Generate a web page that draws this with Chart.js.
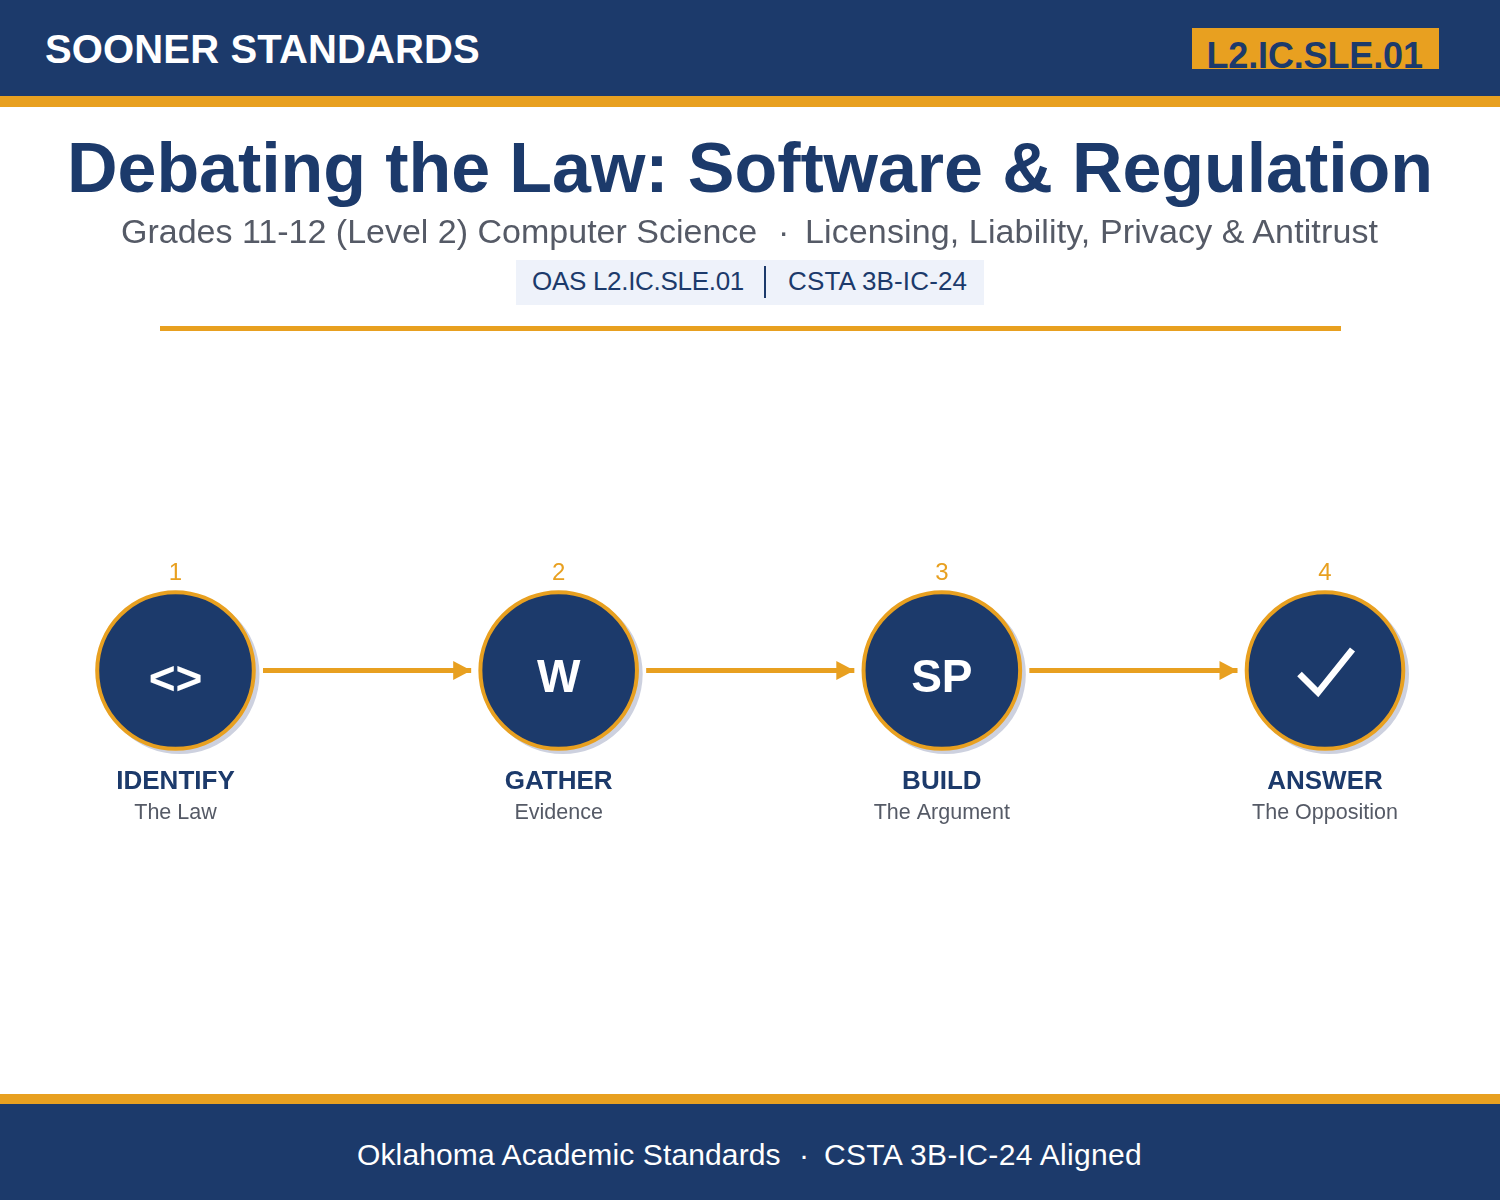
<!DOCTYPE html>
<html>
<head>
<meta charset="utf-8">
<title>Debating the Law: Software & Regulation</title>
<script src="https://cdn.jsdelivr.net/npm/chart.js@4/dist/chart.umd.min.js"></script>
<style>
  html, body { margin: 0; padding: 0; background: #fff; }
  body { position: relative; width: 1500px; height: 1200px; overflow: hidden; font-family: "Liberation Sans", Arial, sans-serif; }
  #flow { position: absolute; left: 0; top: 0; }
  .box { position: absolute; }
  .txt { position: absolute; white-space: pre; line-height: 1; }
  .center { left: 0; width: 1500px; text-align: center; }
</style>
</head>
<body>
<canvas id="flow" width="1500" height="1200" style="width:1500px;height:1200px"></canvas>

<div class="box" style="left:0;top:0;width:1500px;height:96px;background:#1c3a6b"></div>
<div class="box" style="left:0;top:96px;width:1500px;height:11px;background:#e8a020"></div>
<div class="txt" style="left:45px;top:29px;font-size:40px;font-weight:bold;letter-spacing:0.14px;color:#fff">SOONER STANDARDS</div>
<div class="box" style="left:1192px;top:28px;width:247px;height:41px;background:#e8a020"></div>
<div class="txt" style="left:1206.5px;top:38px;font-size:36px;font-weight:bold;letter-spacing:-0.15px;color:#1c3a6b">L2.IC.SLE.01</div>

<div class="txt center" style="top:133px;font-size:70px;font-weight:bold;letter-spacing:-0.08px;color:#1c3a6b">Debating the Law: Software &amp; Regulation</div>
<div class="txt" style="left:121px;top:214px;font-size:34px;color:#555a66">Grades 11-12 (Level 2) Computer Science</div>
<div class="txt" style="left:778px;top:214px;font-size:34px;color:#555a66">·</div>
<div class="txt" style="left:805px;top:214px;font-size:34px;letter-spacing:0.12px;color:#555a66">Licensing, Liability, Privacy &amp; Antitrust</div>

<div class="box" style="left:516px;top:260px;width:468px;height:45px;background:#eef2fa"></div>
<div class="txt" style="left:532px;top:268px;font-size:26px;letter-spacing:-0.3px;color:#1c3a6b">OAS L2.IC.SLE.01</div>
<div class="box" style="left:764px;top:266px;width:2px;height:32px;background:#1c3a6b"></div>
<div class="txt" style="left:788px;top:268px;font-size:26px;letter-spacing:0.15px;color:#1c3a6b">CSTA 3B-IC-24</div>
<div class="box" style="left:160px;top:326px;width:1181px;height:5px;background:#e8a020"></div>

<div class="box" style="left:0;top:1094px;width:1500px;height:10px;background:#e8a020"></div>
<div class="box" style="left:0;top:1104px;width:1500px;height:96px;background:#1c3a6b"></div>
<div class="txt" style="left:357px;top:1140px;font-size:30px;letter-spacing:0.13px;color:#fff">Oklahoma Academic Standards</div>
<div class="txt" style="left:799px;top:1140px;font-size:30px;color:#fff">·</div>
<div class="txt" style="left:824px;top:1140px;font-size:30px;letter-spacing:0.32px;color:#fff">CSTA 3B-IC-24 Aligned</div>

<script>
const stepNumbers = ["1", "2", "3", "4"];
const stepNames = ["IDENTIFY", "GATHER", "BUILD", "ANSWER"];
const stepNotes = ["The Law", "Evidence", "The Argument", "The Opposition"];
const stepIcons = ["<>", "W", "SP", "check"];
const stepLevel = [1, 1, 1, 1];

const NAVY = "#1c3a6b";
const GOLD = "#e8a020";
const FONT = '"Liberation Sans", Arial, sans-serif';

// shadows under the circles, arrows between them
const flowMarks = {
  id: "flowMarks",
  beforeDatasetsDraw(chart) {
    const ctx = chart.ctx;
    const pts = chart.getDatasetMeta(0).data;
    ctx.save();
    ctx.fillStyle = "#cdd1df";
    pts.forEach(p => {
      ctx.beginPath();
      ctx.arc(p.x + 4, p.y + 3.5, 80, 0, Math.PI * 2);
      ctx.fill();
    });
    ctx.fillStyle = GOLD;
    ctx.strokeStyle = GOLD;
    ctx.lineWidth = 5;
    for (let i = 0; i < pts.length - 1; i++) {
      const x0 = pts[i].x + 87.5, x1 = pts[i + 1].x - 87.5, y = pts[i].y;
      ctx.beginPath();
      ctx.moveTo(x0, y);
      ctx.lineTo(x1, y);
      ctx.stroke();
      ctx.beginPath();
      ctx.moveTo(x1 - 18, y - 9.5);
      ctx.lineTo(x1, y);
      ctx.lineTo(x1 - 18, y + 9.5);
      ctx.closePath();
      ctx.fill();
    }
    ctx.restore();
  },
  afterDatasetsDraw(chart) {
    const ctx = chart.ctx;
    const pts = chart.getDatasetMeta(0).data;
    ctx.save();
    ctx.fillStyle = "#fff";
    ctx.strokeStyle = "#fff";
    ctx.textAlign = "center";
    ctx.textBaseline = "alphabetic";
    ctx.font = "bold 46px " + FONT;
    pts.forEach((p, i) => {
      if (stepIcons[i] === "check") {
        ctx.lineWidth = 6.5;
        ctx.lineJoin = "miter";
        ctx.beginPath();
        ctx.moveTo(p.x - 25.5, p.y + 3.5);
        ctx.lineTo(p.x - 7, p.y + 22);
        ctx.lineTo(p.x + 27.5, p.y - 21);
        ctx.stroke();
      } else {
        // the <> glyphs sit a bit lower than the letters
        ctx.fillText(stepIcons[i], p.x, p.y + (stepIcons[i] === "<>" ? 24 : 22));
      }
    });
    ctx.restore();
  }
};

// tick labels get clipped to the axis box, so the paddings have to stay >= 0
function labelAxis(labels, position, weight, font, color, padding) {
  return {
    type: "category",
    labels: labels,
    position: position,
    weight: weight,
    offset: false,
    grid: {display: false, drawTicks: false},
    border: {display: false},
    ticks: {
      autoSkip: false,
      maxRotation: 0,
      minRotation: 0,
      padding: padding,
      font: font,
      color: color
    }
  };
}

new Chart(document.getElementById("flow"), {
  type: "line",
  data: {
    labels: stepNames,
    datasets: [{
      data: stepLevel,
      xAxisID: "x",
      showLine: false,
      clip: false,
      pointRadius: 78.3,
      pointHoverRadius: 78.3,
      pointBorderWidth: 4,
      pointBackgroundColor: NAVY,
      pointBorderColor: GOLD
    }]
  },
  options: {
    responsive: false,
    animation: false,
    events: [],
    layout: {padding: {left: 175.5, right: 175, top: 561, bottom: 374.1}},
    plugins: {legend: {display: false}, tooltip: {enabled: false}, title: {display: false}},
    scales: {
      x: labelAxis(stepNames, "bottom", 0, {family: FONT, size: 26, weight: "bold", lineHeight: 1}, NAVY, 5.1),
      xNote: labelAxis(stepNotes, "bottom", 1, {family: FONT, size: 21.5, lineHeight: 1.2}, "#555a66", 0),
      xNum: labelAxis(stepNumbers, "top", 0, {family: FONT, size: 24, lineHeight: 1}, GOLD, 0),
      y: {display: false, min: 0, max: 1.9154}
    }
  },
  plugins: [flowMarks]
});
</script>
</body>
</html>
